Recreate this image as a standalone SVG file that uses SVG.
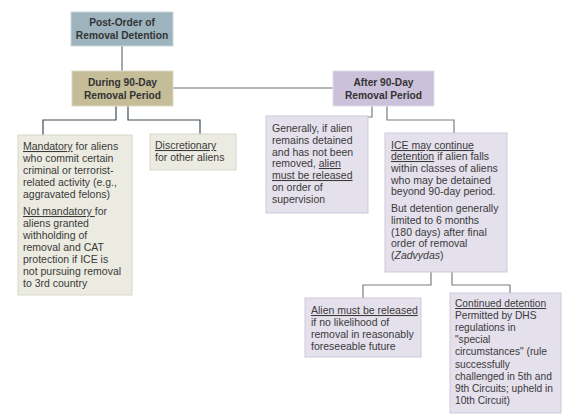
<svg xmlns="http://www.w3.org/2000/svg" width="576" height="418" viewBox="0 0 576 418">
<style>
text{font-family:"Liberation Sans",Arial,sans-serif;font-size:10.5px;fill:#3a3a3a}
.t{font-size:10.2px;font-weight:bold;text-anchor:middle;fill:#333}
.u{text-decoration:underline}
.sm text{font-size:10.2px}
.conn path{fill:none;stroke-width:1.2}
.dk{stroke:#3e4d58}
.md{stroke:#65717a}
.lt{stroke:#7d7d7d}
.beige{fill:#ebebe1;stroke:#d8d8cc;stroke-width:1}
.lav{fill:#e4e0ec;stroke:#cfc9dc;stroke-width:1}
</style>
<rect width="576" height="418" fill="#ffffff"/>
<g id="connectors" class="conn">
<path class="md" d="M122 46 V71"/>
<path class="md" d="M173 88 H333"/>
<path class="dk" d="M116 106 V120 H43 V135"/>
<path class="dk" d="M128 106 V120 H200 V134"/>
<path class="lt" d="M372 106 V117 H368"/>
<path class="lt" d="M387 106 V120 H454 V133"/>
<path class="lt" d="M431 272 V285 H363 V298"/>
<path class="lt" d="M452 272 V285 H510 V293"/>
</g>
<g id="root">
<rect x="71" y="12" width="102" height="34" fill="#9db3be" stroke="#c9d5db"/>
<text class="t" x="122" y="26">Post-Order of</text>
<text class="t" x="122" y="39">Removal Detention</text>
</g>
<g id="during">
<rect x="72" y="71" width="101" height="35" fill="#c4bd97" stroke="#ddd9c3"/>
<text class="t" x="122.5" y="86">During 90-Day</text>
<text class="t" x="122.5" y="99">Removal Period</text>
</g>
<g id="after">
<rect x="333" y="71" width="101" height="35" fill="#ccc1da" stroke="#e2dcea"/>
<text class="t" x="383.5" y="86">After 90-Day</text>
<text class="t" x="383.5" y="99">Removal Period</text>
</g>
<g id="mandatory">
<rect class="beige" x="18" y="135" width="114" height="160"/>
<text x="23" y="150"><tspan class="u">Mandatory</tspan> for aliens</text>
<text x="23" y="162">who commit certain</text>
<text x="23" y="174">criminal or terrorist-</text>
<text x="23" y="186">related activity (e.g.,</text>
<text x="23" y="198">aggravated felons)</text>
<text x="23" y="215"><tspan class="u">Not mandatory </tspan>for</text>
<text x="23" y="227">aliens granted</text>
<text x="23" y="239">withholding of</text>
<text x="23" y="251">removal and CAT</text>
<text x="23" y="263">protection if ICE  is</text>
<text x="23" y="275">not pursuing removal</text>
<text x="23" y="287">to 3rd country</text>
</g>
<g id="discretionary">
<rect class="beige" x="150" y="134" width="86" height="36"/>
<text x="155" y="149"><tspan class="u">Discretionary</tspan></text>
<text x="155" y="161">for other aliens</text>
</g>
<g id="generally">
<rect class="lav" x="266" y="116" width="102" height="97"/>
<text x="272" y="132">Generally, if alien</text>
<text x="272" y="144">remains detained</text>
<text x="272" y="156">and has not been</text>
<text x="272" y="167">removed, <tspan class="u">alien</tspan></text>
<text x="272" y="179"><tspan class="u">must be released</tspan></text>
<text x="272" y="191">on order of</text>
<text x="272" y="203">supervision</text>
</g>
<g id="ice">
<rect class="lav" x="385" y="133" width="122" height="139"/>
<text x="391" y="149"><tspan class="u">ICE may continue</tspan></text>
<text x="391" y="160"><tspan class="u">detention</tspan> if alien falls</text>
<text x="391" y="172">within classes of aliens</text>
<text x="391" y="184">who may be detained</text>
<text x="391" y="195">beyond 90-day period.</text>
<text x="391" y="212">But detention generally</text>
<text x="391" y="224">limited to 6 months</text>
<text x="391" y="236">(180 days) after final</text>
<text x="391" y="247">order of removal</text>
<text x="391" y="259">(<tspan font-style="italic">Zadvydas</tspan>)</text>
</g>
<g id="released">
<rect class="lav" x="305" y="298" width="116" height="59"/>
<text x="311" y="314"><tspan class="u">Alien must be released</tspan></text>
<text x="311" y="326">if no likelihood of</text>
<text x="311" y="338">removal in reasonably</text>
<text x="311" y="350">foreseeable future</text>
</g>
<g id="continued" class="sm">
<rect class="lav" x="450" y="293" width="111" height="120"/>
<text x="455" y="307"><tspan class="u">Continued detention</tspan></text>
<text x="455" y="319">Permitted by DHS</text>
<text x="455" y="331">regulations in</text>
<text x="455" y="343">"special</text>
<text x="455" y="355">circumstances" (rule</text>
<text x="455" y="368">successfully</text>
<text x="455" y="380">challenged in 5th and</text>
<text x="455" y="392">9th Circuits; upheld in</text>
<text x="455" y="404">10th Circuit)</text>
</g>
</svg>
